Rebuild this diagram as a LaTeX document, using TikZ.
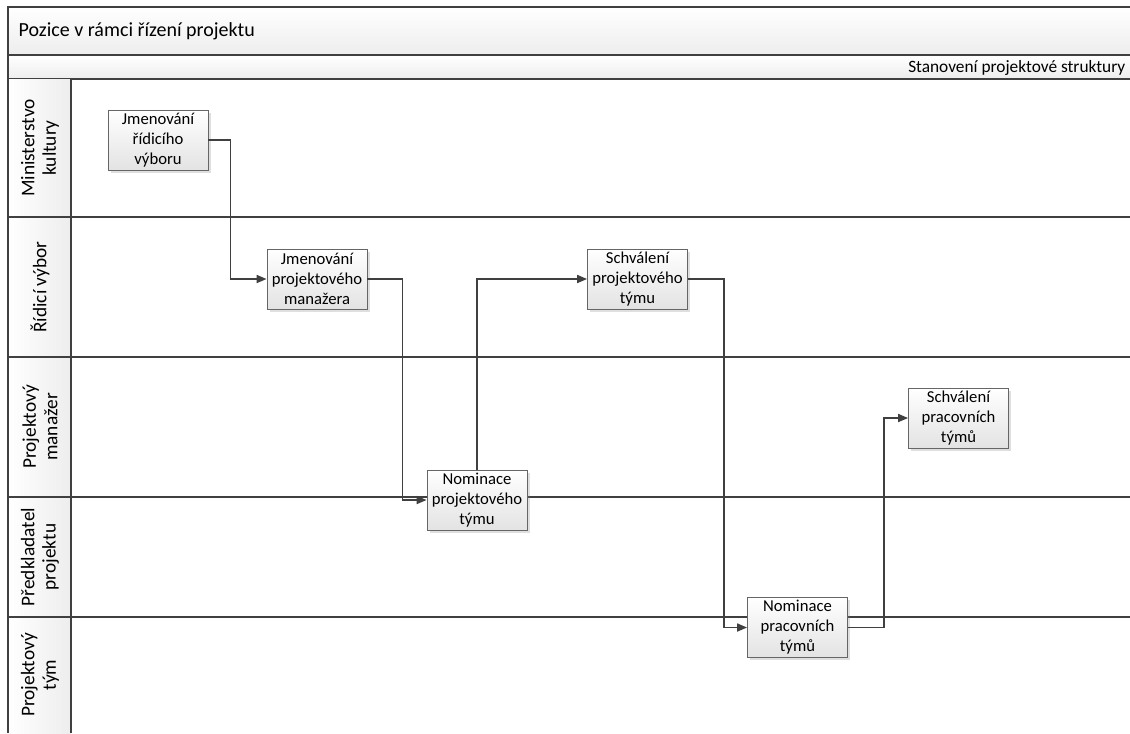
\documentclass[tikz,border=0pt]{standalone}
\usepackage{fontspec}
\setmainfont{Carlito}
\usepackage{tikz}
\usetikzlibrary{arrows.meta,positioning,shadows}
\definecolor{ln}{HTML}{404040}
\tikzset{
  lane/.style={draw=ln, line width=1.2pt},
  hdr/.style={top color=white, bottom color=gray!14, draw=ln, line width=0.8pt},
  lbl/.style={rotate=90, align=center, font=\fontsize{14.5}{16}\selectfont, inner sep=0pt},
  act/.style={draw=ln!80, line width=0.6pt, top color=white, bottom color=gray!22, align=center,
    minimum width=75pt, minimum height=45pt, inner sep=1pt, font=\fontsize{12.5}{15}\selectfont,
    drop shadow={shadow xshift=2pt, shadow yshift=-2pt, opacity=0.25}},
  arr/.style={draw=ln, line width=1.3pt, -{Triangle[length=7.5pt,width=6pt]}},
}

\begin{document}
\begin{tikzpicture}[x=0.75pt, y=-0.75pt]
\useasboundingbox (0,0) rectangle (1130,733);
% header rows
\path[hdr] (8,7) rectangle (1140,55);
\path[hdr] (8,55) rectangle (1140,79);
\path[left color=white, right color=gray!14] (8,79) rectangle (71,733);
\node[anchor=west, font=\fontsize{15}{18}\selectfont] (title) at (14,31) {Pozice v rámci řízení projektu};
\node[anchor=east, font=\fontsize{13}{15}\selectfont] (phase) at (1130,67.5) {Stanovení projektové struktury};
% lanes
\draw[lane] (8,7) -- (8,733);
\draw[lane] (71,79) -- (71,733);
\foreach \y in {217,357,497,617}
  \draw[lane] (8,\y) -- (1130,\y);
\node[lbl] (l1) at (40,148) {Ministerstvo\\kultury};
\node[lbl] (l2) at (40,287) {Řídicí výbor};
\node[lbl] (l3) at (40,427) {Projektový\\manažer};
\node[lbl] (l4) at (40,557) {Předkladatel\\projektu};
\node[lbl] (l5) at (40,675) {Projektový\\tým};
% activities
\node[act] (jrv) at (158,140) {Jmenování\\řídicího\\výboru};
\node[act] (jpm) at (317,279) {Jmenování\\projektového\\manažera};
\node[act] (npt) at (477,500) {Nominace\\projektového\\týmu};
\node[act] (spt) at (637.5,279) {Schválení\\projektového\\týmu};
\node[act] (npr) at (797.5,627.5) {Nominace\\pracovních\\týmů};
\node[act] (spr) at (958.5,418) {Schválení\\pracovních\\týmů};
% flow
\draw[arr] (jrv.east) -- ++(22,0) |- (jpm.west);
\draw[arr] (jpm.east) -- ++(35,0) |- (npt.west);
\draw[arr] (npt.north) |- (spt.west);
\draw[arr] (spt.east) -- ++(36,0) |- (npr.west);
\draw[arr] (npr.east) -- ++(36,0) |- (spr.west);
\end{tikzpicture}
\end{document}
